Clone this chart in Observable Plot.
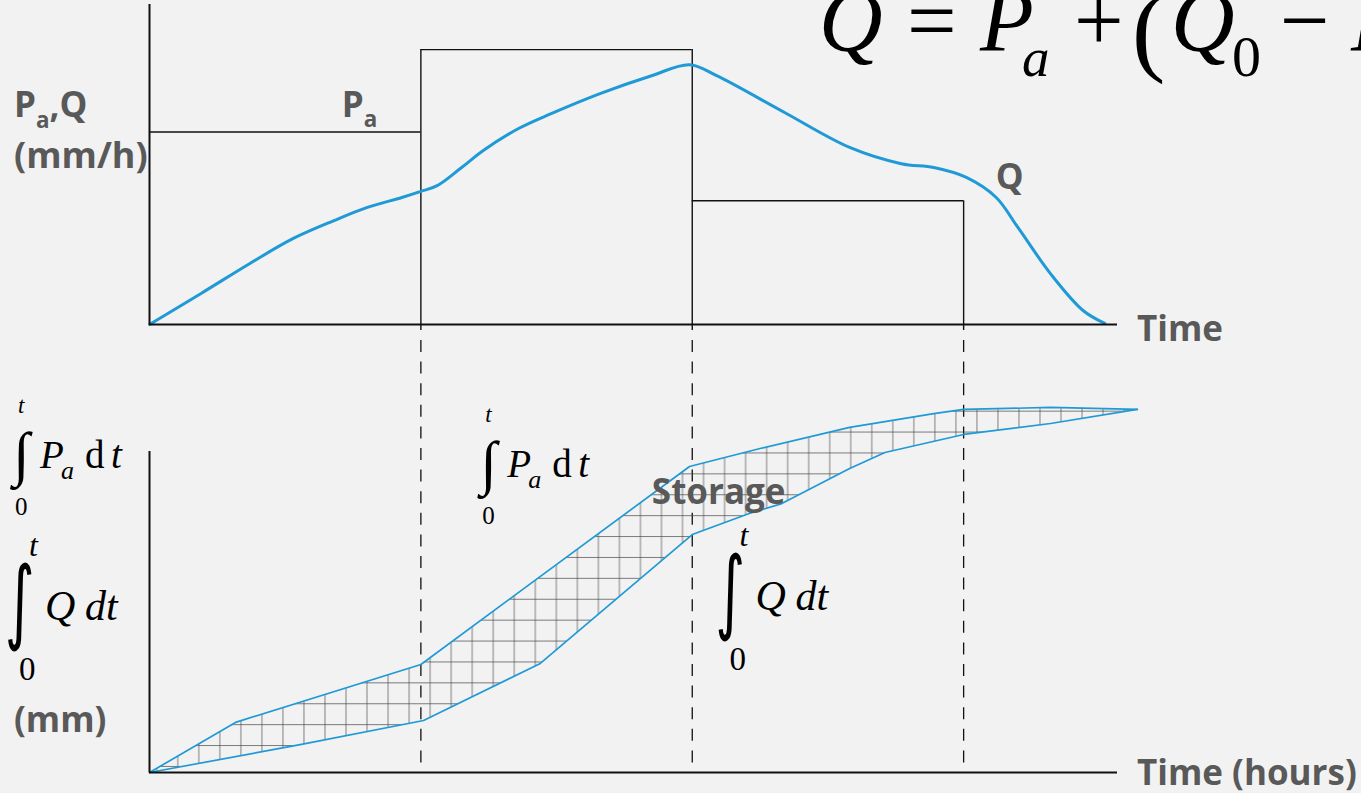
<!DOCTYPE html>
<html>
<head>
<meta charset="utf-8">
<script src="https://cdn.jsdelivr.net/npm/d3@7"></script>
<script src="https://cdn.jsdelivr.net/npm/@observablehq/plot@0.6"></script>
<style>
  html, body { margin: 0; padding: 0; background: #f2f2f2; }
  #chart { position: relative; width: 1361px; height: 793px; overflow: hidden; background: #f2f2f2; }
  #chart > svg { position: absolute; left: 0; }
</style>
</head>
<body>
<div id="chart"></div>
<script>
// Rainfall blocks: start / end hour and average intensity P_a (mm/h)
const blockStart = [0, 1, 2];
const blockEnd = [1, 2, 3];
const paRate = [7, 10, 4.5];

// Outflow hydrograph Q (mm/h) against time (h)
const qTime = [0, 0.19, 0.37, 0.53, 0.68, 0.80, 0.93, 1.0, 1.06, 1.15, 1.23, 1.36, 1.48, 1.66, 1.85, 1.99, 2.09, 2.34, 2.58, 2.77, 2.89, 3.01, 3.12, 3.20, 3.32, 3.44, 3.52];
const qRate = [0, 1.13, 2.22, 3.13, 3.78, 4.25, 4.62, 4.84, 5.05, 5.71, 6.33, 7.13, 7.67, 8.40, 9.05, 9.45, 9.05, 7.71, 6.44, 5.85, 5.71, 5.35, 4.62, 3.53, 1.85, 0.51, 0.04];

// Cumulative rainfall ∫Pa dt (mm)
const inTime = [0, 0.32, 1.0, 1.99, 2.25, 2.58, 2.89, 3.0, 3.32, 3.64];
const inDepth = [0, 2.8, 6.0, 17.0, 18.0, 19.17, 19.94, 20.17, 20.28, 20.17];

// Cumulative outflow ∫Q dt (mm)
const outTime = [0, 0.56, 1.01, 1.44, 2.0, 2.21, 2.33, 2.58, 2.71, 3.0, 3.32, 3.64];
const outDepth = [0, 1.56, 2.89, 6.06, 13.22, 14.39, 14.94, 16.89, 17.78, 18.78, 19.39, 20.17];

// Axis extents
const timeAxisEnd = 3.567;    // h, where both time axes stop
const rateTop = 11.64;        // mm/h, top of the intensity axis
const depthTop = 24;          // mm, top of the lower frame (dashed guides start here)
const depthAxisTop = 17.83;   // mm, top of the depth axis line

const W = 1361;
const BLUE = "#1f9ad6";
const GREY = "#595959";

const blocks = blockStart.map((t0, i) => ({t0, t1: blockEnd[i], p: paRate[i]}));
// Vertical sides of the blocks, each as tall as the higher neighbouring block
const edges = blockEnd.map((t, i) => ({t, top: Math.max(paRate[i], paRate[i + 1] ?? 0)}));
const qData = qTime.map((t, i) => ({t, q: qRate[i]}));
const inData = inTime.map((t, i) => ({t, v: inDepth[i]}));
const outData = outTime.map((t, i) => ({t, v: outDepth[i]}));
// Closed outline of the storage region: rainfall curve forward, outflow curve back
const storage = [...inData, ...outData.slice().reverse()];

const chart = document.getElementById("chart");

// ---- Upper panel: rainfall intensity blocks and outflow hydrograph
const upperTop = 0;
const upperPlot = Plot.plot({
  width: W, height: 336,
  marginLeft: 149, marginRight: W - 1117, marginTop: 4, marginBottom: 12,
  style: {background: "none", overflow: "visible"},
  x: {domain: [0, timeAxisEnd], axis: null},
  y: {domain: [0, rateTop], axis: null},
  marks: [
    Plot.ruleY(blocks, {y: "p", x1: "t0", x2: "t1", stroke: "#111", strokeWidth: 1.4}),
    Plot.ruleX(edges, {x: "t", y1: "top", y2: 0, stroke: "#111", strokeWidth: 1.4, insetBottom: -6}),
    Plot.line(qData, {x: "t", y: "q", stroke: BLUE, strokeWidth: 3, curve: "catmull-rom"}),
    Plot.ruleX([0], {stroke: "#111", strokeWidth: 2}),
    Plot.ruleY([0], {stroke: "#111", strokeWidth: 2})
  ]
});
upperPlot.style.top = upperTop + "px";
chart.appendChild(upperPlot);

// ---- Lower panel: cumulative rainfall and outflow, storage hatched between
const lowerTop = 336;
const lowerPlot = Plot.plot({
  width: W, height: 457,
  marginLeft: 149, marginRight: W - 1117, marginTop: 4, marginBottom: 21,
  style: {background: "none", overflow: "visible"},
  x: {domain: [0, timeAxisEnd], axis: null},
  y: {domain: [0, depthTop], axis: null},
  marks: [
    Plot.ruleX(blockEnd, {stroke: "#111", strokeWidth: 1.3, strokeDasharray: "12,9.6"}),
    Plot.line(storage, {x: "t", y: "v", fill: "url(#storageHatch)", stroke: "none"}),
    Plot.line(inData, {x: "t", y: "v", stroke: BLUE, strokeWidth: 1.7}),
    Plot.line(outData, {x: "t", y: "v", stroke: BLUE, strokeWidth: 1.7}),
    Plot.ruleX([0], {y1: 0, y2: depthAxisTop, stroke: "#111", strokeWidth: 2}),
    Plot.ruleY([0], {stroke: "#111", strokeWidth: 2})
  ]
});
lowerPlot.style.top = lowerTop + "px";
chart.appendChild(lowerPlot);

// Grid hatch used to fill the storage region
const pat = d3.select(lowerPlot).insert("defs", ":first-child")
  .append("pattern")
  .attr("id", "storageHatch")
  .attr("patternUnits", "userSpaceOnUse")
  .attr("x", 166.8).attr("y", 419.5)
  .attr("width", 21.03).attr("height", 20.9);
pat.append("line").attr("x1", 10.5).attr("x2", 10.5).attr("y1", 0).attr("y2", 20.9)
  .attr("stroke", "#444").attr("stroke-width", 0.9).attr("stroke-opacity", 0.75);
pat.append("line").attr("x1", 0).attr("x2", 21.03).attr("y1", 10.45).attr("y2", 10.45)
  .attr("stroke", "#444").attr("stroke-width", 0.9).attr("stroke-opacity", 0.75);

// ---- Annotation layer
const xs = upperPlot.scale("x");
const yUpper = upperPlot.scale("y");
const yLower = lowerPlot.scale("y");
const X = t => xs.apply(t);
const YT = v => upperTop + yUpper.apply(v);
const YB = v => lowerTop + yLower.apply(v);

const layer = d3.select(chart).append("svg")
  .attr("width", W).attr("height", 793)
  .style("top", "0px").style("overflow", "hidden");

const SANS = "'Open Sans', 'Noto Sans', sans-serif";
const SERIF = "'Liberation Serif', 'DejaVu Serif', serif";

// Bold grey label; parts are [text, subscript?]
function sansLabel(x, y, parts, size = 35) {
  const t = layer.append("text").attr("x", x).attr("y", y)
    .attr("font-family", SANS).attr("font-weight", 700)
    .attr("font-size", size).attr("fill", GREY);
  let shift = 0;
  for (const [s, sub] of parts) {
    const want = sub ? size * 0.3 : 0;
    t.append("tspan").attr("dy", want - shift)
      .attr("font-size", sub ? size * 0.64 : size).text(s);
    shift = want;
  }
  return t;
}

// Math group: pieces positioned relative to an origin
function mathGroup(x, y, pieces) {
  const g = layer.append("g").attr("transform", `translate(${x},${y})`);
  for (const p of pieces) {
    const px = p.dx || 0, py = p.dy || 0;
    const t = g.append("text")
      .attr("x", px).attr("y", py)
      .attr("font-family", p.family || SERIF)
      .attr("font-size", p.size)
      .attr("font-style", p.italic ? "italic" : "normal")
      .attr("font-weight", p.bold ? 700 : 400)
      .attr("fill", "#000").text(p.t);
    if (p.sx) t.attr("transform", `translate(${px},${py}) scale(${p.sx},${p.sy || 1}) translate(${-px},${-py})`);
  }
  return g;
}

// ∫₀ᵗ Pa dt — origin at the P's baseline
const integralPa = [
  {t: "∫", dx: -27, dy: 6, size: 60, bold: true},
  {t: "t", dx: -22, dy: -55, size: 23, italic: true},
  {t: "0", dx: -25, dy: 47, size: 25},
  {t: "P", dx: 0, dy: 0, size: 39, italic: true},
  {t: "a", dx: 21, dy: 11, size: 26, italic: true},
  {t: "d", dx: 45, dy: 0, size: 39},
  {t: "t", dx: 71, dy: 0, size: 39, italic: true}
];
// ∫₀ᵗ Q dt — origin at the Q's baseline
const integralQ = [
  {t: "∫", dx: -40, dy: 12, size: 92, family: "'DejaVu Sans', sans-serif", sx: 0.62},
  {t: "t", dx: -16, dy: -64, size: 32, italic: true},
  {t: "0", dx: -26, dy: 60, size: 33},
  {t: "Q", dx: 0, dy: 0, size: 42, italic: true},
  {t: "dt", dx: 40, dy: 0, size: 42, italic: true}
];

// Upper panel labels
sansLabel(14, 117, [["P"], ["a", true], [",Q"]]);
sansLabel(14, 168, [["(mm/h)"]], 36);
sansLabel(X(0.71), YT(paRate[0]) - 15, [["P"], ["a", true]]);
sansLabel(X(3.12), YT(4.9), [["Q"]]);
sansLabel(X(timeAxisEnd) + 20, YT(0) + 17, [["Time"]]);

// Outflow equation across the top
mathGroup(819, 50, [
  {t: "Q", dx: 0, size: 88, italic: true},
  {t: "=", dx: 88, size: 88},
  {t: "P", dx: 161, size: 88, italic: true},
  {t: "a", dx: 203, dy: 26, size: 55, italic: true},
  {t: "+", dx: 255, size: 88},
  {t: "(", dx: 313, dy: 13, size: 100},
  {t: "Q", dx: 352, size: 88, italic: true},
  {t: "0", dx: 413, dy: 26, size: 58},
  {t: "−", dx: 461, size: 88},
  {t: "P", dx: 532, size: 88, italic: true}
]);

// Lower panel labels
mathGroup(40, 468, integralPa);
mathGroup(45, 620, integralQ);
sansLabel(14, 732, [["(mm)"]]);
mathGroup(X(1.32), YB(16.4), integralPa);
mathGroup(X(2.235), YB(9.0), integralQ);
sansLabel(X(1.853), YB(14.9), [["Storage"]]);
sansLabel(X(timeAxisEnd) + 20, YB(0) + 13, [["Time (hours)"]]);
</script>
</body>
</html>
